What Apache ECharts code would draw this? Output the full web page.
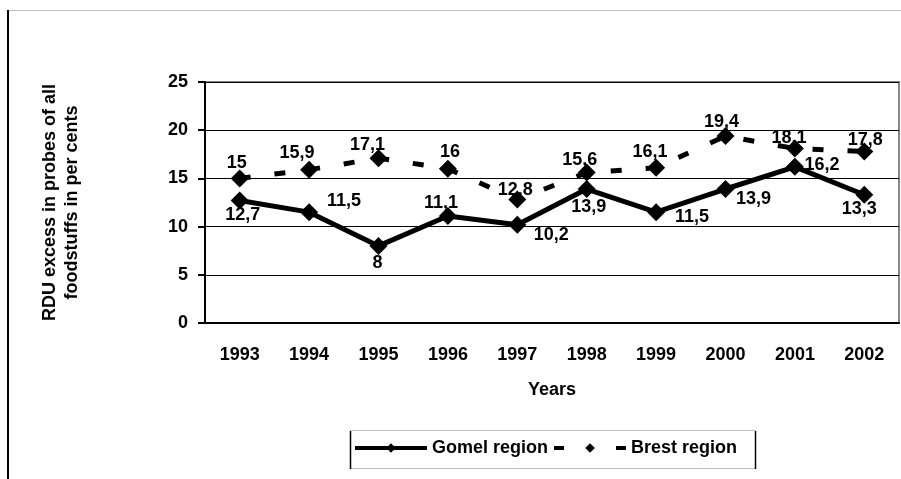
<!DOCTYPE html>
<html>
<head>
<meta charset="utf-8">
<script src="https://cdn.jsdelivr.net/npm/echarts@6/dist/echarts.min.js"></script>
<style>
  html, body { margin: 0; padding: 0; background: #fff; }
  #chart { width: 901px; height: 479px; }
</style>
</head>
<body>
<div id="chart"></div>
<script>
const years = ['1993', '1994', '1995', '1996', '1997', '1998', '1999', '2000', '2001', '2002'];
const gomel = [12.7, 11.5, 8, 11.1, 10.2, 13.9, 11.5, 13.9, 16.2, 13.3];
const brest = [15, 15.9, 17.1, 16, 12.8, 15.6, 16.1, 19.4, 18.1, 17.8];
const yTicks = [0, 5, 10, 15, 20, 25];

// where each value label sits relative to its marker (px)
const gomelLabelOffset = [[3, 14], [35, -11], [-1, 17], [-7, -13], [34, 10], [2, 18], [36, 5], [28, 10], [27, -2], [-5, 14]];
const brestLabelOffset = [[-3, -15], [-12, -17], [-11, -13], [2, -17], [-2, -10], [-7, -13], [-6, -16], [-4, -14], [-6, -10], [1, -11]];

const font = '"Liberation Sans", Arial, sans-serif';
const chart = echarts.init(document.getElementById('chart'));

const withLabels = (values, offsets) => values.map((v, i) => ({
    value: v,
    label: { offset: offsets[i] }
}));

const valueLabel = {
    show: true,
    position: 'inside',
    color: '#000',
    fontFamily: font,
    fontWeight: 'bold',
    fontSize: 18,
    formatter: p => String(p.value).replace('.', ',')
};

chart.setOption({
    animation: false,
    backgroundColor: '#fff',
    textStyle: { fontFamily: font },
    grid: {
        left: 205, right: 2, top: 82, bottom: 156,
        show: true, borderColor: '#888', borderWidth: 2
    },
    xAxis: {
        type: 'category',
        data: years,
        name: 'Years',
        nameLocation: 'middle',
        nameGap: 58,
        nameTextStyle: { color: '#000', fontWeight: 'bold', fontSize: 18, fontFamily: font },
        axisLine: { lineStyle: { color: '#000', width: 2 } },
        axisTick: { length: 7, lineStyle: { color: '#000', width: 2 } },
        axisLabel: { color: '#000', fontWeight: 'bold', fontSize: 18, margin: 23, fontFamily: font },
        splitLine: { show: false }
    },
    yAxis: {
        type: 'value',
        min: yTicks[0],
        max: yTicks[yTicks.length - 1],
        interval: 5,
        name: 'RDU excess in probes of all\nfoodstuffs in per cents',
        nameLocation: 'middle',
        nameGap: 122,
        nameTextStyle: { color: '#000', fontWeight: 'bold', fontSize: 18, lineHeight: 22, fontFamily: font, align: 'center' },
        axisLine: { show: true, lineStyle: { color: '#000', width: 2 } },
        axisTick: { show: true, length: 7, lineStyle: { color: '#000', width: 2 } },
        axisLabel: { color: '#000', fontWeight: 'bold', fontSize: 18, margin: 17, fontFamily: font },
        splitLine: { lineStyle: { color: '#000', width: 1 } }
    },
    legend: {
        left: 353,
        top: 439,
        padding: 0,
        itemWidth: 72,
        itemHeight: 12,
        itemGap: 4,
        textStyle: { color: '#000', fontWeight: 'bold', fontSize: 18, fontFamily: font },
        data: [
            { name: 'Gomel region', lineStyle: { width: 4, color: '#000' } },
            { name: 'Brest region', lineStyle: { width: 4, color: '#000', type: [10, 52] } }
        ]
    },
    series: [
        {
            name: 'Gomel region',
            type: 'line',
            data: withLabels(gomel, gomelLabelOffset),
            symbol: 'diamond',
            symbolSize: 18,
            itemStyle: { color: '#000' },
            lineStyle: { color: '#000', width: 5 },
            label: valueLabel,
            z: 3
        },
        {
            name: 'Brest region',
            type: 'line',
            data: withLabels(brest, brestLabelOffset),
            symbol: 'diamond',
            symbolSize: 18,
            itemStyle: { color: '#000' },
            lineStyle: { color: '#000', width: 5, type: [11, 24] },
            label: valueLabel,
            z: 2
        }
    ],
    graphic: [
        { type: 'line', shape: { x1: 8, y1: 10.5, x2: 901, y2: 10.5 }, style: { stroke: '#c0c0c0', lineWidth: 1 } },
        { type: 'line', shape: { x1: 8, y1: 10, x2: 8, y2: 479 }, style: { stroke: '#000', lineWidth: 2 } },
        { type: 'rect', shape: { x: 350.5, y: 430.5, width: 405, height: 38 }, style: { fill: 'none', stroke: '#c0c0c0', lineWidth: 1 } },
        { type: 'line', shape: { x1: 350.5, y1: 431, x2: 350.5, y2: 469 }, style: { stroke: '#000', lineWidth: 1.5 } },
        { type: 'line', shape: { x1: 755.5, y1: 431, x2: 755.5, y2: 469 }, style: { stroke: '#000', lineWidth: 1.5 } }
    ]
});
</script>
</body>
</html>
